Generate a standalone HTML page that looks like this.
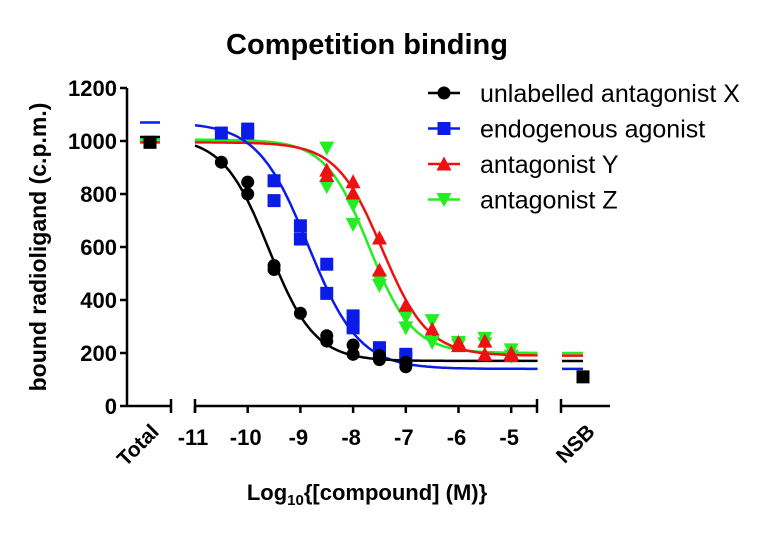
<!DOCTYPE html>
<html><head><meta charset="utf-8"><style>
html,body{margin:0;padding:0;background:#fff;}
svg{display:block;font-family:"Liberation Sans",Arial,sans-serif;font-weight:bold;}
</style></head><body>
<svg id="chart" width="768" height="546" viewBox="0 0 768 546" xmlns="http://www.w3.org/2000/svg">
<text x="367" y="54" font-size="29" text-anchor="middle">Competition binding</text>
<text transform="translate(46,247) rotate(-90)" font-size="23" text-anchor="middle">bound radioligand (c.p.m.)</text>
<text x="367" y="500" font-size="22" text-anchor="middle">Log<tspan font-size="15" dy="5">10</tspan><tspan dy="-5">{[compound] (M)}</tspan></text>
<g id="axes"></g><g id="curves"></g><g id="points"></g><g id="legend"></g>
</svg>
<script>
const seriesNames=["unlabelled antagonist X","endogenous agonist","antagonist Y","antagonist Z"];
const seriesColors=["#000000","#0b1be8","#ee1111","#22ee22"];
const seriesMarkers=["circle","square","up","down"];
const fitTop=[1015,1070,995,1005];
const fitBottom=[170,140,190,200];
const fitLogIC50=[-9.6,-8.85,-7.45,-7.7];
const fitHill=[1,0.9,1,1.05];
const dataX=[
 [[-10.5,920],[-10,845],[-10,800],[-9.5,530],[-9.5,515],[-9,350],[-8.5,265],[-8.5,245],[-8,230],[-8,195],[-7.5,190],[-7.5,175],[-7,165],[-7,148]],
 [[-10.5,1030],[-10,1045],[-10,1030],[-9.5,850],[-9.5,775],[-9,680],[-9,630],[-8.5,535],[-8.5,425],[-8,340],[-8,295],[-7.5,220],[-7.5,205],[-7,195],[-7,180]],
 [[-8.5,890],[-8.5,870],[-8,846],[-8,804],[-7.5,634],[-7.5,513],[-7,380],[-6.5,290],[-6,240],[-6,228],[-5.5,245],[-5.5,195],[-5,200],[-5,190]],
 [[-8.5,973],[-8.5,828],[-8,758],[-8,685],[-7.5,475],[-7.5,455],[-7,335],[-7,295],[-6.5,322],[-6.5,240],[-6,240],[-6,230],[-5.5,255],[-5.5,235],[-5,212],[-5,188]]
];
const totalValues=[995,1060,990,1005];
const nsbValues=[110,140,185,200];
const yTicks=[0,200,400,600,800,1000,1200];
const xTicks=[-11,-10,-9,-8,-7,-6,-5];

const NS="http://www.w3.org/2000/svg";
function mk(tag,attrs,parent){const e=document.createElementNS(NS,tag);for(const k in attrs)e.setAttribute(k,attrs[k]);parent.appendChild(e);return e;}
const Y=v=>406-v*0.265;
const X=l=>195+(l+11)*52.7;
const totalX=150,nsbX=583;
const axes=document.getElementById('axes');
const sw={stroke:"#000","stroke-width":2.5,fill:"none"};
let yl=mk('line',Object.assign({x1:127,y1:Y(1200),x2:127,y2:407},sw),axes);

yTicks.forEach(t=>{
 const l=mk('line',Object.assign({x1:120,y1:Y(t),x2:127,y2:Y(t)},sw),axes);
 
 const tx=mk('text',{x:117,y:Y(t)+8,"font-size":22,"text-anchor":"end"},axes);tx.textContent=t;
 
});
const segs=[[127,171],[195,537],[561,610]];
segs.forEach((s,i)=>{
 const l=mk('line',Object.assign({x1:s[0],y1:406,x2:s[1],y2:406},sw),axes);
 
 [s[0],s[1]].forEach(x=>{if(i===0&&x===127)return;if(i===2&&x===610)return;const t=mk('line',Object.assign({x1:x,y1:399,x2:x,y2:413},sw),axes);});
});
xTicks.forEach(t=>{
 const l=mk('line',Object.assign({x1:X(t),y1:406,x2:X(t),y2:413},sw),axes);
 
 const tx=mk('text',{x:X(t)-2,y:445,"font-size":22,"text-anchor":"middle"},axes);tx.textContent=t;
 
});
const tt=mk('text',{transform:"translate(160,433) rotate(-45)","font-size":21,"text-anchor":"end"},axes);tt.textContent="Total";

const tn=mk('text',{transform:"translate(596,433) rotate(-45)","font-size":21,"text-anchor":"end"},axes);tn.textContent="NSB";


function marker(type,x,y,color,parent,size){
 const s=size||6.5;let e;
 if(type==="circle")e=mk('circle',{cx:x,cy:y,r:s,fill:color},parent);
 else if(type==="square")e=mk('rect',{x:x-s,y:y-s,width:2*s,height:2*s,fill:color},parent);
 else if(type==="up")e=mk('polygon',{points:`${x},${y-s-1} ${x-s-1},${y+s} ${x+s+1},${y+s}`,fill:color},parent);
 else e=mk('polygon',{points:`${x},${y+s+1} ${x-s-1},${y-s} ${x+s+1},${y-s}`,fill:color},parent);
 return e;
}
const curves=document.getElementById('curves'),pts=document.getElementById('points');
[3,2,1,0].forEach(i=>{
 let d="";
 for(let l=-11;l<=-4.45;l+=0.05){const v=fitBottom[i]+(fitTop[i]-fitBottom[i])/(1+Math.pow(10,(l-fitLogIC50[i])*fitHill[i]));d+=(d?"L":"M")+X(l).toFixed(1)+","+Y(v).toFixed(1);}
 const p=mk('path',{d:d,stroke:seriesColors[i],"stroke-width":2.5,fill:"none"},curves);
 
 const tl=mk('line',{x1:140,x2:160,y1:Y(fitTop[i]),y2:Y(fitTop[i]),stroke:seriesColors[i],"stroke-width":2.5},curves);
 
 const nl=mk('line',{x1:562,x2:583,y1:Y(fitBottom[i]),y2:Y(fitBottom[i]),stroke:seriesColors[i],"stroke-width":2.5},curves);
 
});
[3,2,1,0].forEach(i=>{
 dataX[i].forEach(p=>{const m=marker(seriesMarkers[i],X(p[0]),Y(p[1]),seriesColors[i],pts);
  });
});
const tm=marker("square",totalX,Y(totalValues[0]),"#000",pts);

const nm=marker("square",nsbX,Y(nsbValues[0]),"#000",pts);

const lg=document.getElementById('legend');
seriesNames.forEach((n,i)=>{
 const y=93+i*35.5;
 const l=mk('line',{x1:428,x2:460,y1:y,y2:y,stroke:seriesColors[i],"stroke-width":2.5},lg);
 
 const m=marker(seriesMarkers[i],444,y,seriesColors[i],lg);
 
 const t=mk('text',{x:480,y:y+9,"font-size":25,"font-weight":"normal"},lg);t.textContent=n;
 
});
</script>
</body></html>
